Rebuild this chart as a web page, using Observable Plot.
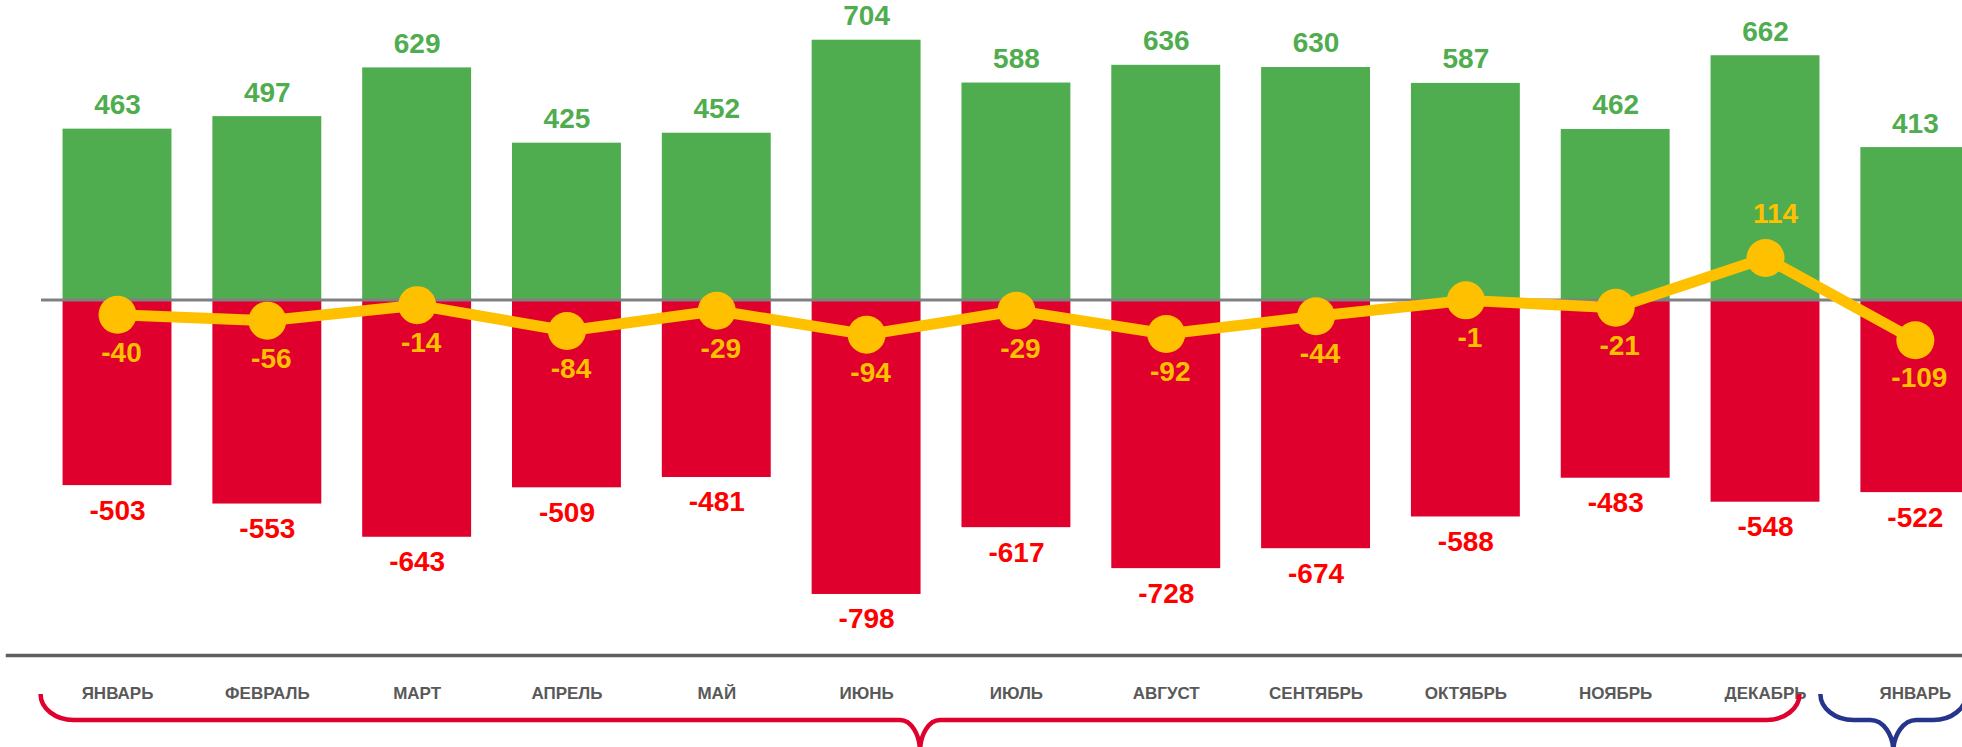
<!DOCTYPE html>
<html>
<head>
<meta charset="utf-8">
<script src="https://cdn.jsdelivr.net/npm/d3@7"></script>
<script src="https://cdn.jsdelivr.net/npm/@observablehq/plot@0.6"></script>
<style>
  html, body { margin: 0; padding: 0; background: #fff; overflow: hidden; }
  #chart { width: 1962px; height: 747px; }
</style>
</head>
<body>
<div id="chart"></div>
<script>
// ---- data ----
const months = ["ЯНВАРЬ","ФЕВРАЛЬ","МАРТ","АПРЕЛЬ","МАЙ","ИЮНЬ","ИЮЛЬ","АВГУСТ","СЕНТЯБРЬ","ОКТЯБРЬ","НОЯБРЬ","ДЕКАБРЬ","ЯНВАРЬ"];
const inflow  = [463, 497, 629, 425, 452, 704, 588, 636, 630, 587, 462, 662, 413];
const outflow = [-503, -553, -643, -509, -481, -798, -617, -728, -674, -588, -483, -548, -522];
const net     = [-40, -56, -14, -84, -29, -94, -29, -92, -44, -1, -21, 114, -109];
// groups of months marked by braces under the axis (first index, last index)
const periods = [[0, 11], [12, 12]];

// ---- styles ----
const GREEN = "#4FAD50", RED_BAR = "#E0002D", RED_TXT = "#FF0000", YELLOW = "#FFC000";
const braceStyles = [
  {color: "#E0002D", gapL: 22, gapR: 20, rx: 33, tip: 20},
  {color: "#27348B", gapL: 40, gapR: 3, rx: 33, tip: 23}
];

const rows = months.map((m, i) => ({i, month: m, inflow: inflow[i], outflow: outflow[i], net: net[i]}));
const font = "'Liberation Sans', Arial, sans-serif";

function braces(index, scales, values, dims) {
  const x = scales.x;
  const bw = x.bandwidth ? x.bandwidth() : 0;
  const g = d3.create("svg:g").attr("fill", "none");
  const yT = 694, yH = 720, yB = 752;
  periods.forEach(([a, b], k) => {
    const s = braceStyles[k];
    const L = x(a) - s.gapL, R = x(b) + bw - s.gapR, C = (L + R) / 2;
    const ry = yH - yT, rt = s.tip, rb = yB - yH;
    const d = `M${L},${yT} A${s.rx},${ry} 0 0 0 ${L + s.rx},${yH} H${C - rt} A${rt},${rb} 0 0 1 ${C},${yB}` +
              ` A${rt},${rb} 0 0 1 ${C + rt},${yH} H${R - s.rx} A${s.rx},${ry} 0 0 0 ${R},${yT}`;
    g.append("path").attr("d", d).attr("stroke", s.color).attr("stroke-width", 4.5);
  });
  return g.node();
}

const chart = Plot.plot({
  width: 1962,
  height: 747,
  marginTop: 0,
  marginLeft: 7,
  marginRight: 0,
  marginBottom: 92,
  style: {background: "#fff", fontFamily: font, color: "#595959", overflow: "visible"},
  x: {type: "band", domain: d3.range(months.length), range: [21.65, 2010.2], padding: 0.273, round: false, axis: null, label: null},
  y: {domain: [-800, 800], range: [594.7, 4.3], axis: null, label: null},
  marks: [
    Plot.barY(rows, {x: "i", y: "inflow", fill: GREEN}),
    Plot.barY(rows, {x: "i", y: "outflow", fill: RED_BAR}),
    Plot.ruleY([0], {stroke: "#808080", strokeWidth: 3, insetLeft: 34}),
    Plot.line(rows, {x: "i", y: "net", stroke: YELLOW, strokeWidth: 11}),
    Plot.dot(rows, {x: "i", y: "net", r: 19, fill: YELLOW}),
    Plot.text(rows, {x: "i", y: "inflow", text: d => String(d.inflow), dy: -24, fill: GREEN, fontSize: 28, fontWeight: "bold"}),
    Plot.text(rows, {x: "i", y: "outflow", text: d => String(d.outflow), dy: 25, fill: RED_TXT, fontSize: 28, fontWeight: "bold"}),
    Plot.text(rows.filter(d => d.net < 0), {x: "i", y: "net", text: d => String(d.net), dy: 38, dx: 4, fill: YELLOW, fontSize: 28, fontWeight: "bold"}),
    Plot.text(rows.filter(d => d.net >= 0), {x: "i", y: "net", text: d => String(d.net), dy: -44, dx: 10, fill: YELLOW, fontSize: 28, fontWeight: "bold"}),
    Plot.frame({anchor: "bottom", stroke: "#5F5F5F", strokeWidth: 3.5}),
    Plot.axisX({tickFormat: i => months[i], tickSize: 0, tickPadding: 31, fontSize: 17, fontWeight: "bold", label: null}),
    braces
  ]
});
document.getElementById("chart").appendChild(chart);
</script>
</body>
</html>
